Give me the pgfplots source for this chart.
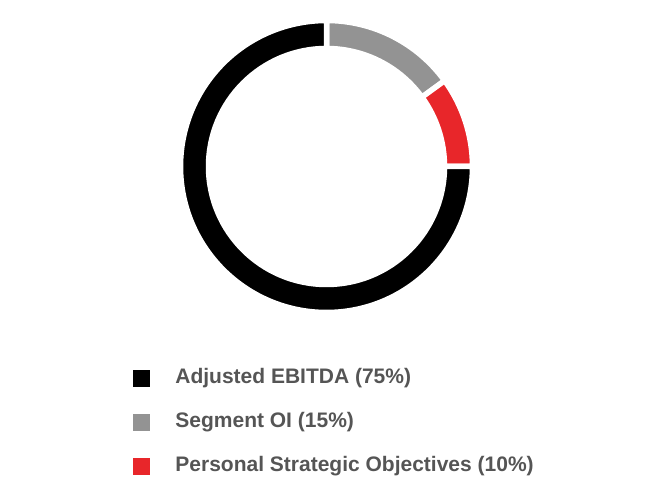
\documentclass[border=0pt]{standalone}
\usepackage{fontspec}
\setmainfont{Liberation Sans}
\usepackage{pgfplots}
\usepackage{pgfplotstable}
\pgfplotsset{compat=1.18}
\definecolor{segblack}{HTML}{000000}
\definecolor{seggray}{HTML}{939393}
\definecolor{segred}{HTML}{E8262A}
\definecolor{legtext}{HTML}{555555}

% value = share in percent, before = share placed clockwise before it (from 12 o'clock)
\pgfplotstableread{
x y value before
0 0 75 25
}\adjdata
\pgfplotstableread{
x y value before
0 0 15 0
}\segdata
\pgfplotstableread{
x y value before
0 0 10 15
}\persdata

\pgfplotsset{
  donut/.style={
    scatter, only marks, mark=*, mark size=0.01pt,
    mark options={draw=white, fill=white},
    visualization depends on={\thisrow{value}\as\segval},
    visualization depends on={\thisrow{before}\as\segbef},
    scatter/@pre marker code/.code={%
      \pgfmathsetmacro\angA{90-3.6*\segbef}%
      \pgfmathsetmacro\angB{90-3.6*(\segbef+\segval)}%
      \begin{pgfscope}%
      \pgfsetfillcolor{#1}\pgfsetstrokecolor{white}\pgfsetlinewidth{5.5bp}%
      \pgfpathmoveto{\pgfpointpolar{\angA}{146bp}}%
      \pgfpatharc{\angA}{\angB}{146bp}%
      \pgfpathlineto{\pgfpointpolar{\angB}{118bp}}%
      \pgfpatharc{\angB}{\angA}{118bp}%
      \pgfpathclose
      \pgfusepath{fill,stroke}%
      \end{pgfscope}%
    },
    scatter/@post marker code/.code={},
  },
}

\begin{document}
\begin{tikzpicture}
\begin{axis}[
  scale only axis, width=652bp, height=480bp,
  xmin=-326.5, xmax=325.5, ymin=-313.5, ymax=166.5,
  hide axis, clip=false,
  point meta min=0, point meta max=1,
]
\addplot[donut=seggray] table[x=x, y=y] {\segdata};
\addplot[donut=segred] table[x=x, y=y] {\persdata};
\addplot[donut=segblack] table[x=x, y=y] {\adjdata};
\end{axis}
\begin{axis}[
  scale only axis, width=652bp, height=480bp,
  xmin=-326.5, xmax=325.5, ymin=-313.5, ymax=166.5,
  hide axis, clip=false,
  legend cell align=left,
  legend style={draw=none, fill=none,
    at={(axis cs:-193.5,-202)}, anchor=north west,
    inner sep=0pt, outer sep=0pt,
    font=\fontsize{21bp}{25bp}\selectfont\bfseries, text=legtext,
    row sep=24bp, column sep=26bp,
    nodes={inner sep=0pt, text height=15bp, text depth=5bp}},
]
\addlegendimage{legend image code/.code={\fill[segblack] (0bp,-8bp) rectangle (16bp,8bp);}}
\addlegendentry{Adjusted EBITDA (75\%)}
\addlegendimage{legend image code/.code={\fill[seggray] (0bp,-8bp) rectangle (16bp,8bp);}}
\addlegendentry{Segment OI (15\%)}
\addlegendimage{legend image code/.code={\fill[segred] (0bp,-8bp) rectangle (16bp,8bp);}}
\addlegendentry{Personal Strategic Objectives (10\%)}
\end{axis}
\path[use as bounding box] (current axis.south west) rectangle (current axis.north east);
\end{tikzpicture}
\end{document}
